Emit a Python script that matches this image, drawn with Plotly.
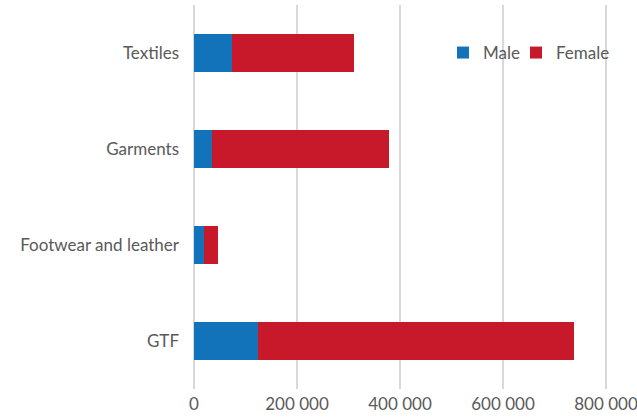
import plotly.graph_objects as go

categories = ["Textiles", "Garments", "Footwear and leather", "GTF"]
male = [73000, 35000, 19500, 125000]
female = [237500, 343500, 27000, 612000]
x_ticks = [0, 200000, 400000, 600000, 800000]
x_tick_labels = ["0", "200 000", "400 000", "600 000", "800 000"]
title_text = "Figure 1. Employment in the GTF sector by subsector and sex, 2019"

font_family = "Lato, 'Open Sans', sans-serif"
grey = "#595959"

fig = go.Figure()
fig.add_trace(go.Bar(y=categories, x=male, orientation="h", name="Male",
                     legend="legend",
                     marker=dict(color="#1273BA", line=dict(width=0))))
fig.add_trace(go.Bar(y=categories, x=female, orientation="h", name="Female",
                     legend="legend2",
                     marker=dict(color="#C8192B", line=dict(width=0))))

W, H = 637, 417
L, R, T, B = 194, 29, 5, 28
pw = W - L - R
ph = H - T - B
xmax = 800000 * pw / 412.0

legend_common = dict(orientation="h", y=(H - B - 53) / ph,
                     xanchor="left", yanchor="middle", bgcolor="rgba(0,0,0,0)",
                     font=dict(size=17, color=grey), itemwidth=30)

fig.update_layout(
    width=W, height=H,
    barmode="stack",
    bargap=0.6,
    plot_bgcolor="white", paper_bgcolor="white",
    margin=dict(l=L, r=R, t=T, b=B, pad=0, autoexpand=False),
    font=dict(family=font_family, size=17, color=grey),
    legend=dict(x=(443 - L) / pw, **legend_common),
    legend2=dict(x=(516 - L) / pw, **legend_common),
    showlegend=True,
)
fig.update_xaxes(range=[0, xmax], tickvals=x_ticks, ticktext=x_tick_labels,
                 showgrid=True, gridcolor="#D9D9D9", gridwidth=2,
                 zeroline=True, zerolinecolor="#D9D9D9", zerolinewidth=2,
                 showline=False, ticks="", automargin=False,
                 ticklabeloverflow="allow",
                 ticklabelstandoff=3, tickfont=dict(size=17, color=grey))
fig.update_yaxes(categoryorder="array", categoryarray=categories[::-1],
                 showgrid=False, zeroline=False, showline=False, ticks="",
                 automargin=False,
                 ticklabelstandoff=14, tickfont=dict(size=17, color=grey))

fig.add_annotation(text="<b>" + title_text + "</b>", xref="paper", yref="paper",
                   x=-L / pw, y=1.0 + 5.0 / ph, xanchor="left", yanchor="bottom",
                   showarrow=False, font=dict(size=17, color="black", family=font_family))

fig.write_html("out.html", config={"displayModeBar": False},
               post_script="document.body.style.margin='0px';document.body.style.overflow='hidden';")
